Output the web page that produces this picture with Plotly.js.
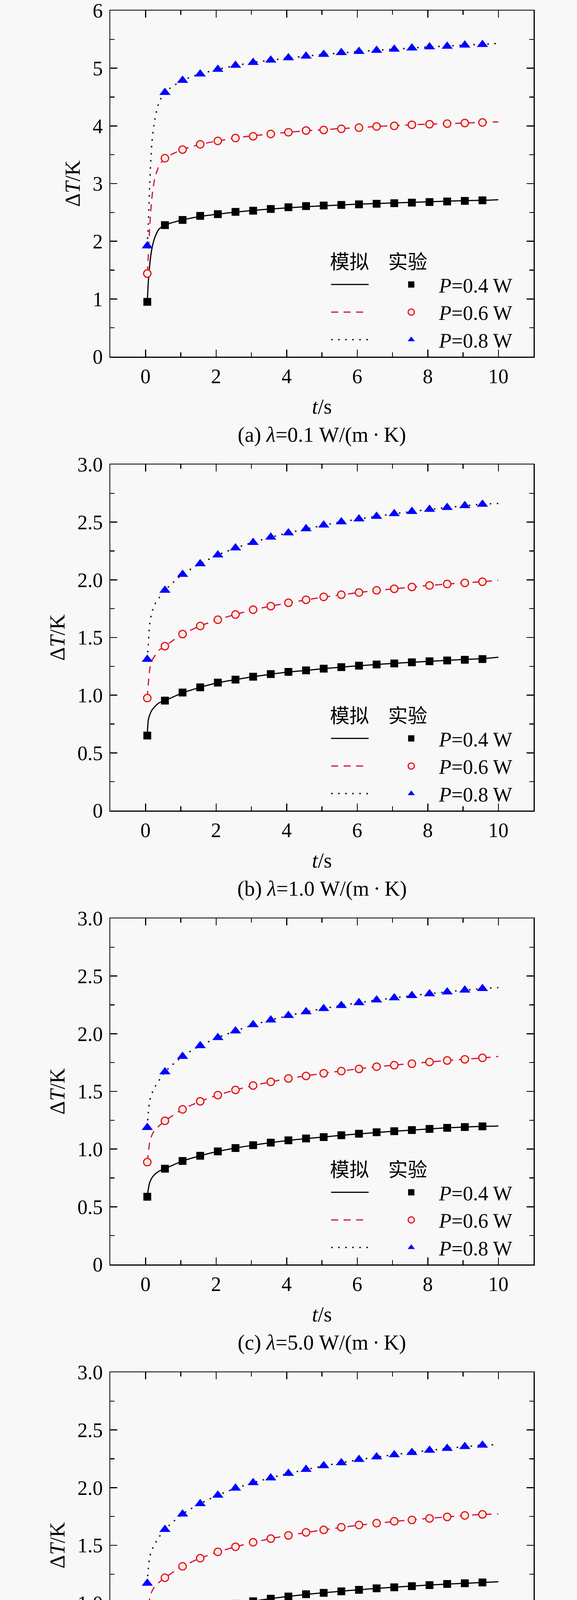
<!DOCTYPE html>
<html>
<head>
<meta charset="utf-8">
<script src="https://cdn.plot.ly/plotly-3.0.1.min.js"></script>
<style>
  html, body { margin: 0; padding: 0; background: #f8f8f8; }
  body { position: relative; width: 1476px; height: 5796px; overflow: hidden; }
  .panel { position: absolute; left: 0; width: 1476px; height: 1149px; }
</style>
</head>
<body>
<div id="p0" class="panel" style="top:0px"></div>
<div id="p1" class="panel" style="top:1162px"></div>
<div id="p2" class="panel" style="top:2324px"></div>
<div id="p3" class="panel" style="top:3486px"></div>
<div id="p4" class="panel" style="top:4647px"></div>
<script>
// time of measurements and of the simulated curves (s)
const tExp = [0.05, 0.55, 1.05, 1.55, 2.05, 2.55, 3.05, 3.55, 4.05, 4.55, 5.05, 5.55, 6.05, 6.55, 7.05, 7.55, 8.05, 8.55, 9.05, 9.55];
const tSim = [0.05, 0.08, 0.12, 0.18, 0.26, 0.38, 0.55, 1.05, 1.55, 2.05, 2.55, 3.05, 3.55, 4.05, 4.55, 5.05, 5.55, 6.05, 6.55, 7.05, 7.55, 8.05, 8.55, 9.05, 9.55, 10.0];

// (a) lambda = 0.1
const expA04 = [0.95, 2.28, 2.37, 2.44, 2.47, 2.51, 2.53, 2.56, 2.59, 2.61, 2.62, 2.63, 2.64, 2.65, 2.66, 2.67, 2.68, 2.69, 2.70, 2.71];
const expA06 = [1.44, 3.44, 3.59, 3.68, 3.74, 3.79, 3.82, 3.86, 3.89, 3.92, 3.93, 3.95, 3.97, 3.99, 4.00, 4.02, 4.03, 4.04, 4.05, 4.06];
const expA08 = [1.92, 4.58, 4.79, 4.90, 4.98, 5.05, 5.10, 5.14, 5.18, 5.21, 5.24, 5.27, 5.29, 5.31, 5.33, 5.35, 5.37, 5.38, 5.40, 5.41];
const simA04 = [0.95, 1.30, 1.60, 1.87, 2.06, 2.21, 2.28, 2.37, 2.43, 2.47, 2.505, 2.535, 2.56, 2.58, 2.60, 2.615, 2.63, 2.645, 2.655, 2.665, 2.675, 2.685, 2.695, 2.705, 2.71, 2.72];
const simA06 = [1.44, 1.75, 2.25, 2.75, 3.08, 3.30, 3.44, 3.59, 3.68, 3.74, 3.79, 3.83, 3.86, 3.89, 3.915, 3.935, 3.955, 3.97, 3.99, 4.005, 4.02, 4.03, 4.04, 4.05, 4.06, 4.07];
const simA08 = [1.92, 2.30, 3.00, 3.70, 4.10, 4.40, 4.58, 4.79, 4.90, 4.98, 5.045, 5.10, 5.14, 5.175, 5.21, 5.24, 5.265, 5.29, 5.31, 5.33, 5.35, 5.37, 5.385, 5.40, 5.415, 5.43];

// (b) lambda = 1.0
const expB04 = [0.650, 0.953, 1.023, 1.068, 1.109, 1.135, 1.160, 1.183, 1.202, 1.215, 1.230, 1.243, 1.256, 1.266, 1.275, 1.285, 1.294, 1.301, 1.307, 1.313];
const expB06 = [0.975, 1.425, 1.530, 1.600, 1.654, 1.699, 1.741, 1.772, 1.801, 1.827, 1.852, 1.871, 1.890, 1.909, 1.922, 1.938, 1.951, 1.964, 1.973, 1.983];
const expB08 = [1.310, 1.909, 2.047, 2.139, 2.215, 2.276, 2.324, 2.369, 2.407, 2.442, 2.474, 2.502, 2.528, 2.550, 2.573, 2.592, 2.611, 2.627, 2.643, 2.655];
const simB04 = [0.650, 0.786, 0.830, 0.870, 0.900, 0.933, 0.953, 1.020, 1.068, 1.108, 1.135, 1.160, 1.182, 1.200, 1.215, 1.230, 1.243, 1.255, 1.266, 1.276, 1.285, 1.294, 1.302, 1.310, 1.316, 1.329];
const simB06 = [0.975, 1.100, 1.226, 1.300, 1.339, 1.390, 1.425, 1.530, 1.600, 1.655, 1.700, 1.740, 1.772, 1.800, 1.826, 1.850, 1.870, 1.890, 1.907, 1.922, 1.937, 1.951, 1.963, 1.974, 1.984, 1.996];
const simB08 = [1.310, 1.440, 1.620, 1.717, 1.785, 1.841, 1.909, 2.047, 2.139, 2.215, 2.275, 2.325, 2.369, 2.407, 2.441, 2.473, 2.502, 2.527, 2.550, 2.572, 2.592, 2.610, 2.627, 2.642, 2.656, 2.662];

// (c) lambda = 5.0
const expC04 = [0.587, 0.830, 0.897, 0.942, 0.980, 1.009, 1.034, 1.056, 1.076, 1.092, 1.104, 1.120, 1.133, 1.146, 1.155, 1.165, 1.175, 1.184, 1.191, 1.197];
const expC06 = [0.887, 1.245, 1.344, 1.414, 1.468, 1.513, 1.551, 1.583, 1.612, 1.634, 1.657, 1.676, 1.695, 1.714, 1.727, 1.740, 1.755, 1.768, 1.778, 1.791];
const expC08 = [1.187, 1.669, 1.803, 1.896, 1.966, 2.024, 2.078, 2.119, 2.158, 2.190, 2.218, 2.244, 2.269, 2.292, 2.311, 2.330, 2.346, 2.362, 2.378, 2.391];
const simC04 = [0.587, 0.655, 0.710, 0.750, 0.780, 0.808, 0.830, 0.897, 0.942, 0.980, 1.009, 1.034, 1.056, 1.075, 1.091, 1.105, 1.119, 1.132, 1.144, 1.155, 1.165, 1.175, 1.184, 1.191, 1.197, 1.200];
const simC06 = [0.887, 0.970, 1.060, 1.120, 1.165, 1.200, 1.245, 1.344, 1.414, 1.468, 1.513, 1.550, 1.583, 1.611, 1.635, 1.657, 1.677, 1.696, 1.713, 1.728, 1.742, 1.755, 1.768, 1.779, 1.790, 1.803];
const simC08 = [1.187, 1.320, 1.420, 1.480, 1.535, 1.595, 1.669, 1.803, 1.896, 1.966, 2.025, 2.076, 2.119, 2.157, 2.190, 2.219, 2.245, 2.269, 2.291, 2.311, 2.330, 2.347, 2.363, 2.378, 2.391, 2.400];

// (d) lambda = 10.0
const expD04 = [0.578, 0.814, 0.878, 0.922, 0.961, 0.993, 1.015, 1.037, 1.056, 1.076, 1.088, 1.101, 1.114, 1.127, 1.136, 1.146, 1.155, 1.165, 1.171, 1.178];
const expD06 = [0.871, 1.219, 1.318, 1.388, 1.443, 1.487, 1.526, 1.558, 1.586, 1.612, 1.634, 1.657, 1.676, 1.692, 1.708, 1.720, 1.733, 1.746, 1.759, 1.768];
const expD08 = [1.171, 1.637, 1.771, 1.861, 1.934, 1.995, 2.043, 2.084, 2.123, 2.158, 2.190, 2.215, 2.244, 2.266, 2.285, 2.304, 2.324, 2.340, 2.356, 2.368];
const simD04 = [0.578, 0.645, 0.700, 0.738, 0.766, 0.792, 0.814, 0.878, 0.923, 0.960, 0.991, 1.016, 1.038, 1.057, 1.074, 1.089, 1.102, 1.115, 1.127, 1.137, 1.147, 1.156, 1.164, 1.171, 1.178, 1.184];
const simD06 = [0.871, 0.955, 1.040, 1.100, 1.142, 1.178, 1.219, 1.318, 1.388, 1.443, 1.487, 1.525, 1.558, 1.586, 1.611, 1.634, 1.655, 1.674, 1.691, 1.707, 1.721, 1.734, 1.747, 1.758, 1.768, 1.772];
const simD08 = [1.171, 1.300, 1.400, 1.460, 1.510, 1.570, 1.637, 1.771, 1.861, 1.934, 1.994, 2.043, 2.085, 2.123, 2.157, 2.188, 2.216, 2.242, 2.265, 2.286, 2.305, 2.323, 2.340, 2.355, 2.368, 2.372];

// (e) lambda = 15.0
const expE04 = [0.578, 0.808, 0.871, 0.919, 0.954, 0.983, 1.009, 1.028, 1.047, 1.063, 1.079, 1.095, 1.108, 1.117, 1.127, 1.136, 1.146, 1.155, 1.162, 1.168];
const expE06 = [0.865, 1.210, 1.309, 1.379, 1.430, 1.475, 1.510, 1.545, 1.570, 1.596, 1.618, 1.637, 1.657, 1.673, 1.685, 1.698, 1.711, 1.724, 1.736, 1.746];
const expE08 = [1.165, 1.628, 1.755, 1.845, 1.915, 1.976, 2.024, 2.068, 2.107, 2.138, 2.167, 2.193, 2.218, 2.241, 2.263, 2.282, 2.298, 2.314, 2.327, 2.340];
const simE04 = [0.578, 0.642, 0.695, 0.733, 0.760, 0.786, 0.808, 0.871, 0.917, 0.953, 0.983, 1.008, 1.029, 1.048, 1.064, 1.079, 1.093, 1.106, 1.117, 1.127, 1.137, 1.146, 1.155, 1.162, 1.168, 1.171];
const simE06 = [0.865, 0.950, 1.030, 1.090, 1.133, 1.170, 1.210, 1.309, 1.378, 1.431, 1.475, 1.512, 1.544, 1.571, 1.596, 1.618, 1.638, 1.656, 1.672, 1.686, 1.700, 1.712, 1.724, 1.735, 1.746, 1.752];
const simE08 = [1.165, 1.290, 1.390, 1.450, 1.500, 1.560, 1.628, 1.755, 1.845, 1.915, 1.975, 2.024, 2.067, 2.105, 2.138, 2.168, 2.194, 2.218, 2.240, 2.261, 2.280, 2.298, 2.314, 2.328, 2.341, 2.349];

// labels
const seriesNames = ['<i>P</i>=0.4 W', '<i>P</i>=0.6 W', '<i>P</i>=0.8 W'];
const captions = [
  '(a) <i>λ</i>=0.1 W/(m\u2009·\u2009K)',
  '(b) <i>λ</i>=1.0 W/(m\u2009·\u2009K)',
  '(c) <i>λ</i>=5.0 W/(m\u2009·\u2009K)',
  '(d) <i>λ</i>=10.0 W/(m\u2009·\u2009K)',
  '(e) <i>λ</i>=15.0 W/(m\u2009·\u2009K)'
];
const yTicksBig = [0, 1, 2, 3, 4, 5, 6];
const yTicksBigText = ['0', '1', '2', '3', '4', '5', '6'];
const yTicksSmall = [0, 0.5, 1.0, 1.5, 2.0, 2.5, 3.0];
const yTicksSmallText = ['0', '0.5', '1.0', '1.5', '2.0', '2.5', '3.0'];

const panels = [
  { exp: [expA04, expA06, expA08], sim: [simA04, simA06, simA08], yMax: 6, yt: yTicksBig, ytt: yTicksBigText, minor: 0.5 },
  { exp: [expB04, expB06, expB08], sim: [simB04, simB06, simB08], yMax: 3, yt: yTicksSmall, ytt: yTicksSmallText, minor: 0.25 },
  { exp: [expC04, expC06, expC08], sim: [simC04, simC06, simC08], yMax: 3, yt: yTicksSmall, ytt: yTicksSmallText, minor: 0.25 },
  { exp: [expD04, expD06, expD08], sim: [simD04, simD06, simD08], yMax: 3, yt: yTicksSmall, ytt: yTicksSmallText, minor: 0.25 },
  { exp: [expE04, expE06, expE08], sim: [simE04, simE06, simE08], yMax: 3, yt: yTicksSmall, ytt: yTicksSmallText, minor: 0.25 }
];

// each panel: 1476 x 1149 div, plot box 282..1365 x 27..913
const W = 1476, PH = 1149;
const M = { l: 282, r: 111, t: 27, b: 236 };
const plotW = W - M.l - M.r, plotH = PH - M.t - M.b;
const bg = '#f8f8f8';
const serif = 'Liberation Serif, Times New Roman, serif';
const cjk = 'Noto Sans CJK SC, sans-serif';

const simStyle = [
  { color: '#000000', width: 3, dash: 'solid' },
  { color: '#d0103a', width: 3, dash: '18px,14px' },
  { color: '#111111', width: 3.5, dash: '4px,14px' }
];
const expMarker = [
  { symbol: 'square', size: 20, color: '#000000', line: { width: 0 } },
  { symbol: 'circle', size: 19, color: '#fdf0d8', line: { width: 3, color: '#e0102e' } },
  { symbol: 'triangle-up', size: 25, color: '#0000ff', line: { width: 0 } }
];

function axisBase() {
  return {
    ticks: 'inside', ticklen: 18, tickwidth: 2.5, tickcolor: '#000',
    showline: true, linewidth: 2.5, linecolor: '#000', mirror: 'ticks',
    showgrid: false, zeroline: false, ticklabeloverflow: 'allow',
    tickfont: { family: serif, size: 52, color: '#000' }
  };
}

panels.forEach((p, i) => {
  const traces = [];
  // simulated curves first so the markers sit on top
  p.sim.forEach((vals, k) => {
    traces.push({
      x: tSim, y: vals, type: 'scatter', mode: 'lines', name: ' ',
      line: { color: simStyle[k].color, width: simStyle[k].width, dash: simStyle[k].dash, shape: 'spline', smoothing: 0.8 },
      legend: 'legend', hoverinfo: 'skip'
    });
  });
  p.exp.forEach((vals, k) => {
    traces.push({
      x: tExp, y: vals, type: 'scatter', mode: 'markers', name: seriesNames[k],
      marker: expMarker[k], cliponaxis: false, legend: 'legend2'
    });
  });

  const legY = 1 - 596 / plotH;
  const layout = {
    width: W, height: PH,
    margin: M,
    paper_bgcolor: bg, plot_bgcolor: bg,
    font: { family: serif, color: '#000', size: 52 },
    showlegend: true,
    xaxis: Object.assign(axisBase(), {
      range: [-1, 11], tick0: 0, dtick: 2,
      minor: { tick0: 0, dtick: 1, ticks: 'inside', ticklen: 11, tickwidth: 2.5, tickcolor: '#000' },
      ticklabelstandoff: 3,
      title: { text: '<i>t</i>/s', font: { family: serif, size: 54, color: '#000' }, standoff: 31 }
    }),
    yaxis: Object.assign(axisBase(), {
      range: [0, p.yMax], tickmode: 'array', tickvals: p.yt, ticktext: p.ytt,
      minor: { tickmode: 'linear', tick0: 0, dtick: p.minor, ticks: 'inside', ticklen: 11, tickwidth: 2.5, tickcolor: '#000' },
      ticklabelstandoff: 6,
      title: { text: 'Δ<i>T</i>/K', font: { family: serif, size: 54, color: '#000' }, standoff: 15 }
    }),
    legend: {
      x: (842 - M.l) / plotW, y: legY, xanchor: 'left', yanchor: 'top',
      bgcolor: 'rgba(0,0,0,0)', borderwidth: 0,
      font: { family: serif, size: 52, color: '#000' }, itemwidth: 96,
      title: { text: '模拟', font: { family: cjk, size: 50, color: '#000' } }
    },
    legend2: {
      x: (981 - M.l) / plotW, y: legY, xanchor: 'left', yanchor: 'top',
      bgcolor: 'rgba(0,0,0,0)', borderwidth: 0,
      font: { family: serif, size: 52, color: '#000' }, itemwidth: 132,
      title: { text: '\u2009实验', font: { family: cjk, size: 50, color: '#000' } }
    },
    annotations: [{
      xref: 'paper', yref: 'paper', x: 0.5, y: -200 / plotH,
      xanchor: 'center', yanchor: 'middle', showarrow: false,
      text: captions[i], font: { family: serif, size: 54, color: '#000' }
    }]
  };

  Plotly.newPlot('p' + i, traces, layout, { staticPlot: true });
});
</script>
</body>
</html>
